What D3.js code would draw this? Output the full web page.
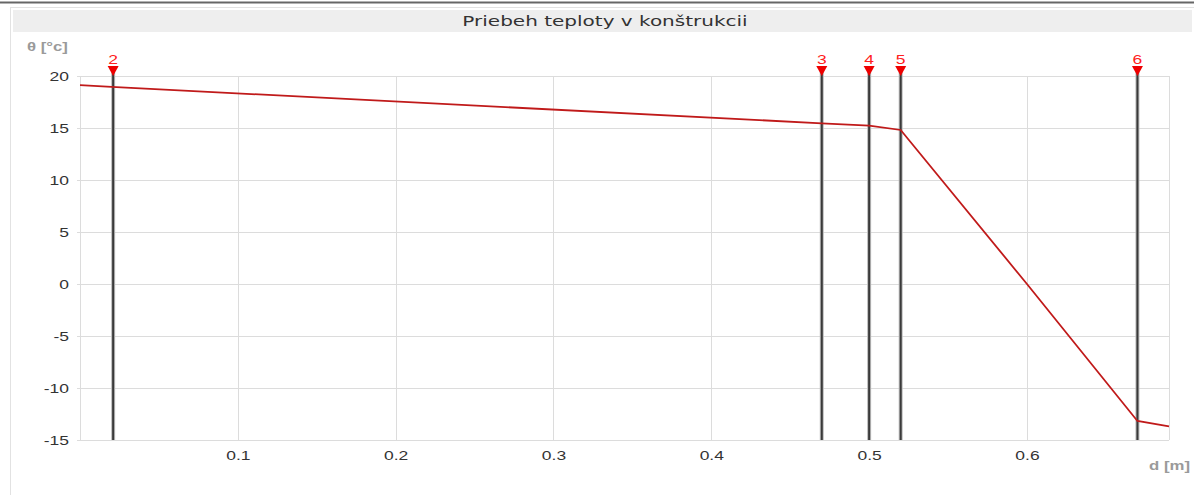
<!DOCTYPE html>
<html>
<head>
<meta charset="utf-8">
<script src="https://cdn.jsdelivr.net/npm/d3@7"></script>
<style>
  html, body { margin: 0; padding: 0; background: #fff; }
  svg { display: block; }
</style>
</head>
<body>
<svg id="chart" width="1194" height="495"></svg>
<script>
// Temperature profile through the wall (d in metres, θ in °C)
const depth = [0, 0.02, 0.47, 0.50, 0.52, 0.60, 0.67, 0.69];
const temperature = [19.13, 18.95, 15.45, 15.22, 14.81, 0.0, -13.17, -13.7];

// Layer interfaces marked on the chart
const interfaceIds = ["2", "3", "4", "5", "6"];
const interfaceDepth = [0.021, 0.47, 0.50, 0.52, 0.67];

const xTicks = [0.1, 0.2, 0.3, 0.4, 0.5, 0.6];
const yTicks = [-15, -10, -5, 0, 5, 10, 15, 20];

const title = "Priebeh teploty v konštrukcii";
const yLabel = "θ [°c]";
const xLabel = "d [m]";

const svg = d3.select("#chart");
const W = 1194, H = 495;
const plot = { left: 80, right: 1169, top: 76, bottom: 440 };
const SX = 1.4;                  // horizontal widening of all lettering
const FONT = "Arial, 'Liberation Sans', sans-serif";

// Text placed at (px, py) and widened horizontally around its anchor
function wideText(px, py, str, opts) {
  return svg.append("text")
    .attr("transform", `translate(${px},${py}) scale(${SX},1)`)
    .attr("text-anchor", opts.anchor || "start")
    .attr("font-family", opts.family || FONT)
    .attr("font-size", opts.size)
    .attr("font-weight", opts.weight || "normal")
    .attr("fill", opts.fill)
    .text(str);
}

// Frame
svg.append("line").attr("x1", 0).attr("x2", W).attr("y1", 2.5).attr("y2", 2.5)
  .attr("stroke", "#666").attr("stroke-width", 2);
svg.append("line").attr("x1", 10).attr("x2", W).attr("y1", 7.5).attr("y2", 7.5)
  .attr("stroke", "#e2e2e2").attr("stroke-width", 1);
svg.append("line").attr("x1", 10.5).attr("x2", 10.5).attr("y1", 7).attr("y2", H)
  .attr("stroke", "#e2e2e2").attr("stroke-width", 1);
svg.append("rect").attr("x", 13).attr("y", 10).attr("width", 1179).attr("height", 22)
  .attr("fill", "#eeeeee");
wideText(605, 26, title, { anchor: "middle", size: 14.3, fill: "#333",
  family: "Verdana, 'DejaVu Sans', sans-serif" });

const x = d3.scaleLinear().domain([0, 0.69]).range([plot.left, plot.right]);
const y = d3.scaleLinear().domain([-15, 20]).range([plot.bottom, plot.top]);

// Grid
const grid = svg.append("g");
grid.selectAll("line.h").data(yTicks).join("line")
  .attr("x1", plot.left - 3).attr("x2", plot.right)
  .attr("y1", d => Math.round(y(d)) + 0.5).attr("y2", d => Math.round(y(d)) + 0.5)
  .attr("stroke", "#dcdcdc");
grid.selectAll("line.v").data(xTicks).join("line")
  .attr("y1", plot.top).attr("y2", plot.bottom)
  .attr("x1", d => Math.round(x(d)) + 0.5).attr("x2", d => Math.round(x(d)) + 0.5)
  .attr("stroke", "#dcdcdc");
[plot.left, plot.right].forEach(px => grid.append("line")
  .attr("x1", px + 0.5).attr("x2", px + 0.5).attr("y1", plot.top).attr("y2", plot.bottom)
  .attr("stroke", "#dcdcdc"));

// Tick labels via d3 axes (domain and tick marks hidden); plain hyphen for negatives
const yAxis = svg.append("g").attr("transform", `translate(${plot.left - 11},0)`)
  .call(d3.axisLeft(y).tickValues(yTicks).tickSize(0).tickPadding(0).tickFormat(d => String(d)));
const xAxis = svg.append("g").attr("transform", `translate(0,${plot.bottom + 4})`)
  .call(d3.axisBottom(x).tickValues(xTicks).tickSize(0).tickPadding(7).tickFormat(d => d.toFixed(1)));
[yAxis, xAxis].forEach(g => {
  g.select(".domain").remove();
  g.selectAll("text").attr("font-family", FONT)
    .attr("font-size", 12.5).attr("fill", "#333")
    .attr("transform", `scale(${SX},1)`);
});

wideText(27, 51, yLabel, { size: 12, weight: "bold", fill: "#9a9a9a" });
wideText(1190, 470, xLabel, { anchor: "end", size: 12, weight: "bold", fill: "#9a9a9a" });

// Interface lines with markers
const marks = svg.append("g");
interfaceDepth.forEach((d, i) => {
  const px = x(d);
  marks.append("line").attr("x1", px).attr("x2", px).attr("y1", 72).attr("y2", plot.bottom)
    .attr("stroke", "#bbb").attr("stroke-width", 4);
  marks.append("line").attr("x1", px).attr("x2", px).attr("y1", 72).attr("y2", plot.bottom)
    .attr("stroke", "#3a3a3a").attr("stroke-width", 2);
  marks.append("path")
    .attr("d", `M${px - 5.5},66 L${px + 5.5},66 L${px},76 Z`)
    .attr("fill", "#ee0000");
  wideText(px, 64, interfaceIds[i], { anchor: "middle", size: 12.5, fill: "#ff2020" });
});

// Temperature curve
const line = d3.line().x((d, i) => x(depth[i])).y(d => y(d));
svg.append("path").datum(temperature)
  .attr("d", line).attr("fill", "none")
  .attr("stroke", "#c01a1a").attr("stroke-width", 1.8);
</script>
</body>
</html>
